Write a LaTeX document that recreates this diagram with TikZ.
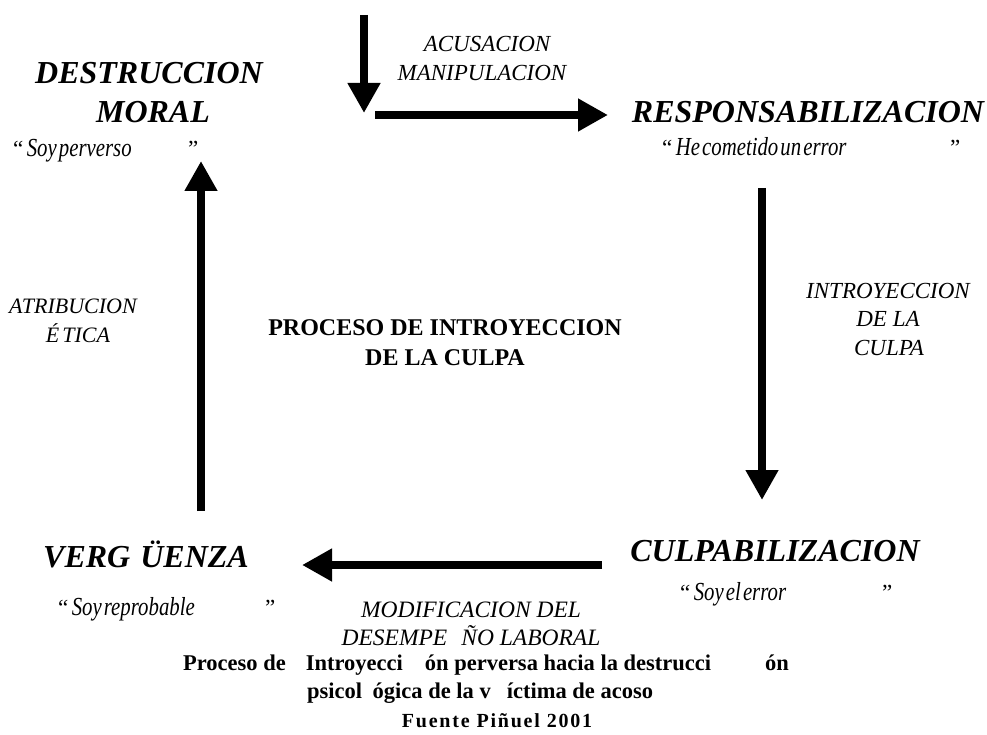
\documentclass[tikz,border=0pt]{standalone}
\usepackage{fontspec}
\setmainfont{Liberation Serif}
\newfontfamily\cnd[FakeStretch=0.8,WordSpace=0.4]{Liberation Serif}
\usetikzlibrary{arrows.meta}
\begin{document}
\begin{tikzpicture}[x=1pt,y=-1pt,
  bigarrow/.style={line width=8pt,-{Triangle[width=31pt,length=30pt]}},
  ttl/.style={font=\fontsize{32}{36}\selectfont\bfseries\itshape,inner sep=0pt,anchor=base},
  lbl/.style={font=\fontsize{23}{28}\selectfont\itshape,inner sep=0pt,anchor=base},
  ctr/.style={font=\fontsize{24}{28}\selectfont\bfseries,inner sep=0pt,anchor=base},
  qtext/.style={font=\fontsize{26}{30}\selectfont\cnd\itshape,inner sep=0pt,anchor=base west},
  qmark/.style={font=\fontsize{23}{26}\selectfont,inner sep=0pt,anchor=base west},
  captxt/.style={font=\fontsize{22.5}{26}\selectfont\bfseries,inner sep=0pt,anchor=base}]
\useasboundingbox (0,0) rectangle (987,735);

% titles
\node[ttl] (dest1) at (149,84) {DESTRUCCION};
\node[ttl] (dest2) at (153,123) {MORAL};
\node[ttl] (resp) at (808,123) {RESPONSABILIZACION};
\node[ttl] (culp) at (775,561) {CULPABILIZACION};
\node[ttl] (verg) at (146,567) {VERG\hspace{10pt}ÜENZA};

% quotes
\node[qmark] (q1a) at (13,157) {“};
\node[qtext] (q1b) at (q1a.base east) {\hspace{3pt}Soy perverso};
\node[qmark] (q1c) at (188,157) {”};

\node[qmark] (q2a) at (662,156) {“};
\node[qtext] (q2b) at (q2a.base east) {\hspace{3pt}He cometido un error};
\node[qmark] (q2c) at (950,156) {”};

\node[qmark] (q3a) at (58,615) {“};
\node[qtext] (q3b) at (q3a.base east) {\hspace{3pt}Soy reprobable};
\node[qmark] (q3c) at (265,615) {”};

\node[qmark] (q4a) at (680,600) {“};
\node[qtext] (q4b) at (q4a.base east) {\hspace{3pt}Soy el error};
\node[qmark] (q4c) at (882,600) {”};

% arrow labels
\node[lbl] (acu1) at (487,52) {ACUSACION};
\node[lbl] (acu2) at (482,81) {MANIPULACION};
\node[lbl] (int1) at (888,298) {INTROYECCION};
\node[lbl] (int2) at (888,326) {DE LA};
\node[lbl] (int3) at (889,355) {CULPA};
\node[lbl,font=\fontsize{22}{28}\selectfont\itshape] (atr1) at (73,313) {ATRIBUCION};
\node[lbl,font=\fontsize{22}{28}\selectfont\itshape] (atr2) at (78,342) {É\hspace{3pt}TICA};
\node[lbl,font=\fontsize{23.5}{28}\selectfont\itshape] (mod1) at (471,617) {MODIFICACION DEL};
\node[lbl,font=\fontsize{23.5}{28}\selectfont\itshape] (mod2) at (471,645) {DESEMPE\hspace{14pt}ÑO LABORAL};

% centre
\node[ctr] (pro1) at (445,335) {PROCESO DE INTROYECCION};
\node[ctr] (pro2) at (445,365) {DE LA CULPA};

% caption
\node[captxt] (c1) at (486,670) {Proceso de\hspace{20pt}Introyecci\hspace{22pt}ón perversa hacia la destrucci\hspace{54pt}ón};
\node[captxt] (c2) at (480,698) {psicol\hspace{5pt} ógica de la v\hspace{16pt}íctima de acoso};
\node[captxt,font=\fontsize{20}{24}\selectfont\bfseries\addfontfeature{LetterSpace=9}] (c3) at (497,727) {Fuente Piñuel 2001};

% arrows
\coordinate (a0) at (364,15);  \coordinate (a1) at (364,113);
\coordinate (b0) at (375,115); \coordinate (b1) at (608,115);
\coordinate (r0) at (762,188); \coordinate (r1) at (762,500);
\coordinate (u0) at (602,565); \coordinate (u1) at (302,565);
\coordinate (l0) at (201,511); \coordinate (l1) at (201,161);
\draw[bigarrow] (a0) -- (a1);
\draw[bigarrow] (b0) -- (b1);
\draw[bigarrow] (r0) -- (r1);
\draw[bigarrow] (u0) -- (u1);
\draw[bigarrow] (l0) -- (l1);
\end{tikzpicture}
\end{document}
